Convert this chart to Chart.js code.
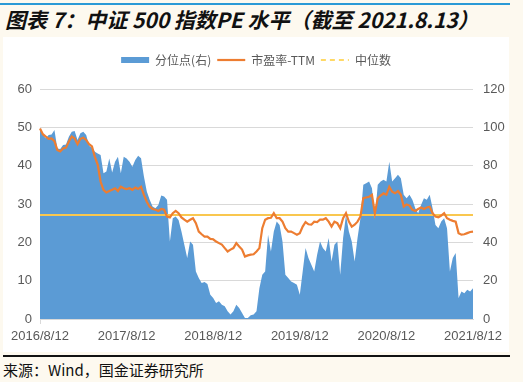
<!DOCTYPE html>
<html lang="zh">
<head>
    <meta charset="UTF-8">
    <script src="https://cdn.jsdelivr.net/npm/chart.js@4.4.1/dist/chart.umd.min.js"></script>
    <title>中证500指数PE水平</title>
    <style>
        body { margin: 0; width: 523px; height: 382px; background: #fdf9ef; position: relative; overflow: hidden;
               font-family: 'Noto Sans CJK SC', sans-serif; }
        #topline { position: absolute; left: 0; top: 3px; width: 510px; height: 2px; background: #2a9ad6; }
        #title { position: absolute; left: 5px; top: 9px; font-size: 21px; line-height: 21px; font-weight: bold;
                 font-style: italic; color: #111; white-space: nowrap; }
        #box { position: absolute; left: 3px; top: 37px; width: 506px; height: 315px; background: #fff; }
        #bottomline { position: absolute; left: 3px; top: 355px; width: 507px; height: 2px; background: #111; }
        #source { position: absolute; left: 3px; top: 362px; font-size: 15px; line-height: 15px; color: #111; white-space: nowrap; }
    </style>
</head>
<body>
    <div id="topline"></div>
    <div id="title">图表 7：中证 500 指数PE 水平（截至 2021.8.13）</div>
    <div id="box"><canvas id="myChart" width="506" height="315"></canvas></div>
    <div id="bottomline"></div>
    <div id="source">来源：Wind，国金证券研究所</div>

    <script>
        // sampled ~30 points per year, 2016/8/12 -> 2021/8/12
        var xTicks = ['2016/8/12', '2017/8/12', '2018/8/12', '2019/8/12', '2020/8/12', '2021/8/12'];
        var perTick = 30;

        // 市盈率-TTM (left axis)
        var pe = [
            49.7, 48.2, 47.6, 47.0, 47.1, 46.4, 44.1, 43.7, 44.5, 44.7,
            46.3, 47.6, 47.1, 45.6, 47.0, 47.3, 46.7, 45.6, 45.0, 42.3,
            40.2, 35.8, 33.7, 33.0, 33.4, 33.7, 34.1, 33.4, 34.5, 34.1,
            33.9, 34.1, 33.7, 34.3, 33.9, 34.5, 32.4, 30.6, 29.3, 28.7,
            28.5, 28.2, 28.7, 28.5, 26.7, 26.5, 27.6, 28.2, 27.6, 26.5,
            25.9, 25.4, 25.9, 26.3, 25.0, 22.8, 22.1, 21.5, 21.5, 20.9,
            20.8, 20.2, 19.8, 19.4, 18.5, 17.6, 18.1, 18.5, 19.8, 18.9,
            18.1, 16.3, 16.6, 16.8, 16.9, 17.6, 18.5, 23.7, 25.9, 26.3,
            26.4, 27.6, 26.3, 26.3, 25.4, 23.7, 22.8, 22.8, 22.4, 22.0,
            22.4, 24.1, 25.3, 24.7, 24.6, 25.4, 25.3, 25.9, 25.9, 26.3,
            25.4, 24.1, 25.4, 25.0, 23.7, 26.3, 27.6, 25.4, 24.1, 24.6,
            25.4, 26.7, 31.5, 31.7, 31.9, 32.4, 27.6, 31.5, 32.2, 32.8,
            32.4, 34.5, 33.2, 32.8, 33.4, 32.4, 29.3, 29.9, 29.6, 28.5,
            28.2, 28.7, 29.1, 28.7, 29.1, 29.3, 27.6, 26.7, 26.5, 27.0,
            27.6, 26.3, 25.9, 25.6, 25.4, 22.4, 22.0, 22.1, 22.4, 22.7,
            22.8
        ];

        // 分位点 (right axis)
        var pct = [
            99.5, 96.0, 94.3, 96.0, 96.3, 98.6, 89.0, 88.7, 90.8, 91.1,
            95.1, 97.7, 98.1, 93.4, 96.9, 97.7, 96.0, 90.4, 89.4, 87.3,
            86.4, 85.6, 76.0, 76.9, 83.8, 76.5, 82.1, 84.7, 76.0, 84.7,
            83.8, 82.1, 79.5, 83.0, 85.2, 83.9, 74.3, 66.5, 62.2, 58.7,
            57.8, 59.5, 64.4, 63.9, 62.2, 40.5, 52.6, 53.5, 51.7, 45.7,
            38.7, 31.8, 40.5, 38.7, 24.8, 21.4, 18.8, 19.3, 18.2, 12.7,
            10.9, 8.3, 9.2, 7.5, 6.6, 4.0, 2.3, 4.0, 7.5, 5.7,
            3.1, 0.5, 0.5, 1.9, 2.3, 4.0, 16.1, 23.1, 24.8, 43.9,
            35.2, 45.7, 50.9, 49.1, 40.5, 23.1, 21.4, 19.6, 18.8, 17.9,
            12.7, 24.8, 37.0, 31.8, 28.3, 24.8, 33.5, 40.5, 37.0, 35.2,
            42.2, 30.0, 38.7, 40.5, 23.1, 42.2, 54.3, 45.7, 40.5, 30.0,
            42.2, 52.6, 70.0, 70.8, 71.7, 68.2, 52.6, 70.0, 71.7, 72.6,
            71.7, 82.1, 71.7, 73.4, 75.2, 73.4, 64.8, 63.0, 64.8, 62.2,
            57.8, 55.2, 59.5, 63.0, 62.2, 64.8, 57.8, 49.1, 47.4, 50.9,
            52.6, 47.4, 24.8, 31.8, 34.4, 10.9, 14.4, 13.5, 15.3, 14.4,
            16.1
        ];

        var median = 27.1;

        var labels = pe.map(function (v, i) { return i; });
        var last = labels.length - 1;
        var gray = '#595959';
        var gridColor = '#d9d9d9';
        var legendOrder = [1, 2, 0]; // dataset index -> legend position

        var ctx = document.getElementById('myChart').getContext('2d');
        var chart = new Chart(ctx, {
            type: 'line',
            data: {
                labels: labels,
                datasets: [{
                    label: '市盈率-TTM',
                    data: pe,
                    borderColor: '#ed7d31',
                    borderWidth: 2.2,
                    pointRadius: 0,
                    fill: false,
                    yAxisID: 'y'
                }, {
                    label: '中位数',
                    data: [{ x: 0, y: median }, { x: last, y: median }],
                    borderColor: '#f9c74f',
                    borderWidth: 2,
                    pointRadius: 0,
                    fill: false,
                    yAxisID: 'y'
                }, {
                    label: '分位点(右)',
                    data: pct,
                    backgroundColor: '#5b9bd5',
                    borderColor: '#5b9bd5',
                    borderWidth: 0,
                    pointRadius: 0,
                    fill: 'origin',
                    yAxisID: 'y1'
                }]
            },
            options: {
                responsive: false,
                animation: false,
                layout: { padding: { top: 11, left: 0, right: 0, bottom: 0 } },
                font: { family: "'Liberation Sans', 'Noto Sans CJK SC', sans-serif" },
                plugins: {
                    tooltip: { enabled: false },
                    legend: {
                        position: 'top',
                        labels: {
                            usePointStyle: true,
                            pointStyleWidth: 28,
                            boxHeight: 6,
                            padding: 6,
                            color: gray,
                            font: { size: 12, family: "'Noto Sans CJK SC', sans-serif" },
                            sort: function (a, b) { return legendOrder[a.datasetIndex] - legendOrder[b.datasetIndex]; },
                            generateLabels: function (c) {
                                var items = Chart.defaults.plugins.legend.labels.generateLabels(c);
                                items.forEach(function (it) {
                                    if (it.datasetIndex === 2) {
                                        it.pointStyle = 'rect';
                                    } else {
                                        it.pointStyle = 'line';
                                    }
                                    if (it.datasetIndex === 1) {
                                        it.lineDash = [5, 4];
                                        it.strokeStyle = '#ffd966';
                                    }
                                });
                                return items;
                            }
                        }
                    }
                },
                scales: {
                    x: {
                        type: 'category',
                        grid: {
                            drawOnChartArea: false,
                            drawTicks: true,
                            tickLength: 5,
                            color: function (c) { return c.index % perTick === 0 ? gridColor : 'rgba(0,0,0,0)'; }
                        },
                        border: { color: gridColor },
                        ticks: {
                            autoSkip: false,
                            maxRotation: 0,
                            padding: 5,
                            color: gray,
                            font: { size: 13 },
                            callback: function (v, i) { return i % perTick === 0 ? xTicks[i / perTick] : null; }
                        },
                        afterFit: function (s) { s.height = 33; }
                    },
                    y: {
                        position: 'left',
                        min: 0,
                        max: 60,
                        ticks: { stepSize: 10, padding: 8, color: gray, font: { size: 13 } },
                        grid: { color: gridColor, drawTicks: false },
                        border: { display: false },
                        afterFit: function (s) { s.width = 37; }
                    },
                    y1: {
                        position: 'right',
                        min: 0,
                        max: 120,
                        ticks: { stepSize: 20, padding: 10, color: gray, font: { size: 13 } },
                        grid: { display: false, drawTicks: false },
                        border: { display: false },
                        afterFit: function (s) { s.width = 36; }
                    }
                }
            },
            plugins: [{
                id: 'legendGap',
                afterInit: function (c) {
                    var fit = c.legend.fit;
                    c.legend.fit = function () {
                        fit.call(this);
                        this.height += 13;
                    };
                }
            }]
        });
    </script>
</body>
</html>
